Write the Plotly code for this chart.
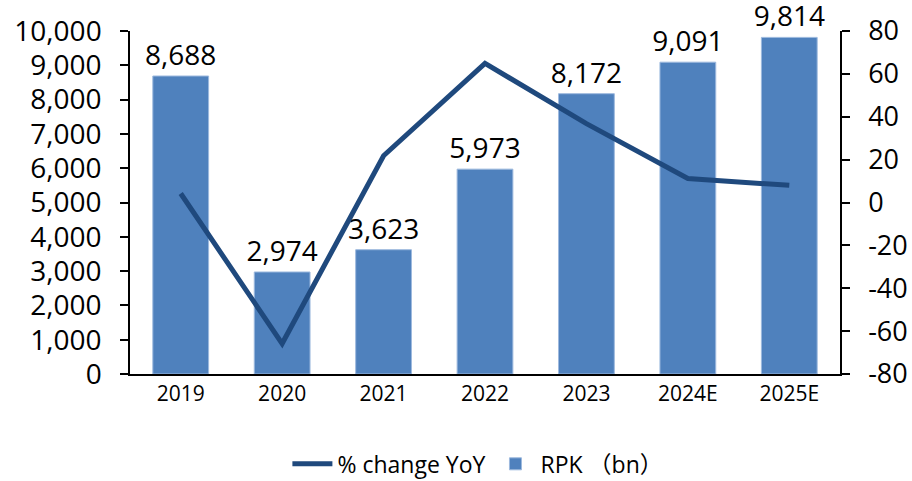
import plotly.graph_objects as go

years = ["2019", "2020", "2021", "2022", "2023", "2024E", "2025E"]
rpk = [8688, 2974, 3623, 5973, 8172, 9091, 9814]
yoy = [4.2, -65.8, 21.8, 64.9, 36.8, 11.2, 8.0]
rpk_labels = ["8,688", "2,974", "3,623", "5,973", "8,172", "9,091", "9,814"]
left_ticks = [0, 1000, 2000, 3000, 4000, 5000, 6000, 7000, 8000, 9000, 10000]
right_ticks = [-80, -60, -40, -20, 0, 20, 40, 60, 80]
right_tick_text = ["-80", "-60", "-40", "-20", "0", "20", "40", "60", "80"]

FONT = "Open Sans, Noto Sans CJK SC, sans-serif"

fig = go.Figure()
fig.add_trace(go.Bar(
    x=years, y=rpk, name="RPK （bn）",
    marker=dict(color="#4F81BD", line=dict(color="#9DB9DE", width=1)),
    text=rpk_labels, textposition="outside", cliponaxis=False, constraintext="none",
    textfont=dict(size=28, color="#000000", family=FONT),
    legendrank=2,
))
fig.add_trace(go.Scatter(
    x=years, y=yoy, name="% change YoY", yaxis="y2", mode="lines",
    line=dict(color="#1F497D", width=5), legendrank=1,
))

fig.update_layout(
    width=912, height=481,
    margin=dict(l=130, r=72, t=31, b=107, autoexpand=False),
    paper_bgcolor="white", plot_bgcolor="white",
    font=dict(family=FONT, color="#000000"),
    bargap=0.45,
    showlegend=True,
    legend=dict(orientation="h", x=0.49, xanchor="center", y=-0.262, yanchor="middle",
                font=dict(size=23, family=FONT), traceorder="normal",
                itemwidth=40),
    xaxis=dict(showline=True, linecolor="#000000", linewidth=1.5, ticks="",
               tickfont=dict(size=21), showgrid=False, automargin=False),
    yaxis=dict(range=[0, 10000], tickvals=left_ticks, tickformat=",d",
               showline=True, linecolor="#000000", linewidth=1.5,
               ticks="outside", ticklen=8, tickcolor="#000000", tickwidth=1.5,
               showgrid=False, zeroline=False, tickfont=dict(size=28),
               ticklabelstandoff=13, automargin=False),
    yaxis2=dict(range=[-80, 80], tickvals=right_ticks, ticktext=right_tick_text,
                overlaying="y", side="right",
                showline=True, linecolor="#000000", linewidth=1.5,
                ticks="outside", ticklen=8, tickcolor="#000000", tickwidth=1.5,
                showgrid=False, zeroline=False, tickfont=dict(size=27),
                ticklabelstandoff=13, automargin=False),
)

fig.write_html(
    "out.html",
    config={"displayModeBar": False},
    post_script="document.body.style.margin='0';document.body.style.overflow='hidden';",
)
